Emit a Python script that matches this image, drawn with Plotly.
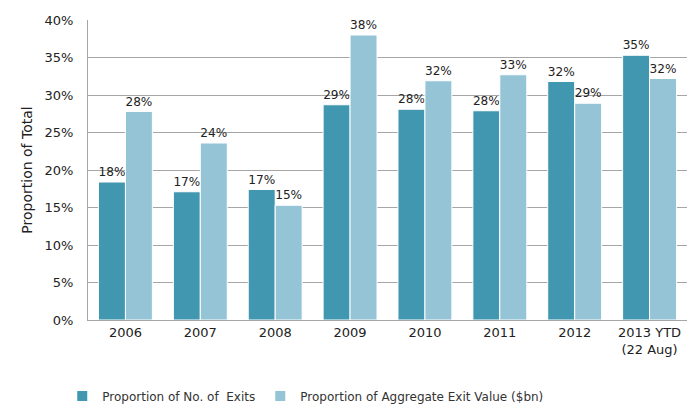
import plotly.graph_objects as go

categories = ["2006", "2007", "2008", "2009", "2010", "2011", "2012", "2013 YTD<br>(22 Aug)"]
exits_pct = [18.4, 17.1, 17.4, 28.7, 28.1, 27.9, 31.8, 35.3]
value_pct = [27.8, 23.6, 15.3, 38.0, 31.9, 32.7, 28.9, 32.2]
series_names = ["Proportion of No. of  Exits", "Proportion of Aggregate Exit Value ($bn)"]
y_ticks = [0, 5, 10, 15, 20, 25, 30, 35, 40]

FONT = "DejaVu Sans"
dark = "#4197AF"
light = "#94C4D6"

fig = go.Figure()
for name, vals, col in [(series_names[0], exits_pct, dark), (series_names[1], value_pct, light)]:
    fig.add_trace(go.Bar(
        x=categories, y=vals, name=name,
        marker=dict(color=col, line=dict(color="white", width=1)),
        text=[f"{round(v):.0f}%" for v in vals],
        textposition="outside", cliponaxis=False,
        textfont=dict(family=FONT, size=13, color="#222"),
    ))

fig.update_layout(
    width=699, height=408,
    margin=dict(l=88, r=12, t=20, b=88, autoexpand=False),
    paper_bgcolor="white", plot_bgcolor="white",
    barmode="group", bargap=0.28, bargroupgap=0,
    font=dict(family=FONT, size=13, color="#333"),
    showlegend=True,
    legend=dict(orientation="h", x=-0.043, xanchor="left", y=-0.205, yanchor="top",
                font=dict(family=FONT, size=12, color="#333"), itemsizing="constant",
                traceorder="normal", itemwidth=30),
)
fig.update_xaxes(showline=True, linecolor="#A6A6A6", linewidth=1, ticks="", automargin=False,
                 tickfont=dict(family=FONT, size=13, color="#222"), showgrid=False)
fig.update_yaxes(range=[0, 40], tickvals=y_ticks, ticktext=[f"{t}%" for t in y_ticks],
                 showgrid=True, gridcolor="#A6A6A6", gridwidth=1, automargin=False,
                 showline=True, linecolor="#A6A6A6", linewidth=1, zeroline=False,
                 ticklabelstandoff=11,
                 tickfont=dict(family=FONT, size=13, color="#222"),
                 title=dict(text="Proportion of Total", font=dict(family=FONT, size=14, color="#222"), standoff=8))

fig.write_html("out.html", config={"displayModeBar": False},
               post_script="document.body.style.margin='0px';")
